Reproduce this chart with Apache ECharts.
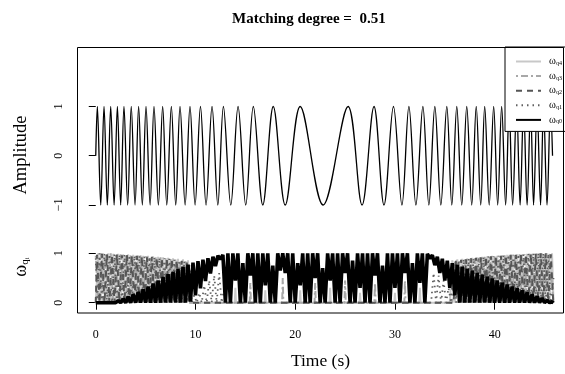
<!DOCTYPE html>
<html><head><meta charset="utf-8">
<script src="https://cdn.jsdelivr.net/npm/echarts@6/dist/echarts.min.js"></script>
<style>html,body{margin:0;padding:0;background:#fff}#c{width:565px;height:374px}</style>
</head><body><div id="c"></div>
<script>
const titleText = 'Matching degree =  0.51';
const xTicks = [0, 10, 20, 30, 40];
const ampTicks = [-1, 0, 1];
const omegaTicks = [0, 1];
const seriesNames = ['q4', 'q3', 'q2', 'q1', 'q0'];

// extremum times of the chirp signal
const signalTimes = [0, 0.16, 0.5, 0.83, 1.16, 1.5, 1.84, 2.17, 2.5, 2.83, 3.2, 3.56, 3.94, 4.3, 4.67, 5.04, 5.45, 5.84, 6.28, 6.71, 7.12,
  7.58, 8.02, 8.45, 8.96, 9.45, 9.96, 10.5, 11.06, 11.66, 12.24, 12.8, 13.54, 14.27, 15.04, 15.8, 16.75, 17.8, 19.0, 20.5, 22.8,
  25.3, 26.7, 27.9, 28.9, 29.85, 30.7, 31.4, 32.1, 32.8, 33.4, 34.0, 34.6, 35.2, 35.7, 36.2, 36.7, 37.2, 37.7, 38.15, 38.6,
  39.0, 39.45, 39.9, 40.3, 40.7, 41.1, 41.45, 41.8, 42.2, 42.55, 42.9, 43.25, 43.6, 43.9, 44.25, 44.6, 44.9, 45.25, 45.6, 45.8];
const signalValues = [0, 1, -1, 1, -1, 1, -1, 1, -1, 1, -1, 1, -1, 1, -1, 1, -1, 1, -1, 1, -1,
  1, -1, 1, -1, 1, -1, 1, -1, 1, -1, 1, -1, 1, -1, 1, -1, 1, -1, 1, -1,
  1, -1, 1, -1, 1, -1, 1, -1, 1, -1, 1, -1, 1, -1, 1, -1, 1, -1, 1, -1,
  1, -1, 1, -1, 1, -1, 1, -1, 1, -1, 1, -1, 1, -1, 1, -1, 1, -1, 1, 0];

const q4 = [[0,0],[0.25,1],[0.5,0],[0.75,1],[1,0],[1.25,1],[1.5,0],[1.75,0.99],[2,0],[2.25,0.99],[2.5,0],[2.75,0.98],[3,0],[3.25,0.98],[3.5,0],[3.75,0.97],[4,0],[4.25,0.96],[4.5,0],[4.75,0.95],[5,0],[5.25,0.95],[5.5,0],[5.75,0.94],[6,0],[6.25,0.93],[6.5,0],[6.75,0.92],[7,0],[7.25,0.91],[7.5,0],[7.75,0.9],[8,0],[8.25,0.89],[8.5,0],[8.75,0.88],[9,0],[9.25,0.86],[9.5,0],
  [13.94,0],[14,0.3],[14.06,0],[16.94,0],[17,0.25],[17.06,0],[20.44,0],[20.5,0.25],[20.56,0],[23.44,0],[23.5,0.3],[23.56,0],[26.44,0],[26.5,0.2],[26.56,0],[29.94,0],[30,0.2],[30.06,0],[32.44,0],[32.5,0.3],[32.56,0],
  [35.5,0],[35.75,0.86],[36,0],[36.25,0.88],[36.5,0],[36.75,0.89],[37,0],[37.25,0.9],[37.5,0],[37.75,0.91],[38,0],[38.25,0.92],[38.5,0],[38.75,0.93],[39,0],[39.25,0.94],[39.5,0],[39.75,0.95],[40,0],[40.25,0.95],[40.5,0],[40.75,0.96],[41,0],[41.25,0.97],[41.5,0],[41.75,0.97],[42,0],[42.25,0.98],[42.5,0],[42.75,0.98],[43,0],[43.25,0.99],[43.5,0],[43.75,0.99],[44,0],[44.25,1],[44.5,0],[44.75,1],[45,0],[45.25,1],[45.5,0],[45.75,1],[45.9,0]];

const q3 = [[0,0.95],[0.25,0],[0.5,1],[0.75,0],[1,0.98],[1.25,0],[1.5,1],[1.75,0],[2,0.97],[2.25,0],[2.5,0.98],[2.75,0],[3,0.96],[3.25,0],[3.5,0.97],[3.75,0],[4,0.95],[4.25,0],[4.5,0.96],[4.75,0],[5,0.94],[5.25,0],[5.5,0.93],[5.75,0],[6,0.92],[6.25,0],[6.5,0.92],[6.75,0],[7,0.9],[7.25,0],[7.5,0.89],[7.75,0],[8,0.88],[8.25,0],[8.5,0.86],[8.75,0],[9,0.84],[9.25,0],
  [15.44,0],[15.5,0.4],[15.56,0],[18.69,0],[18.75,0.5],[18.81,0],[21.94,0],[22,0.4],[22.06,0],[24.94,0],[25,0.45],[25.06,0],[27.94,0],[28,0.4],[28.06,0],[30.94,0],[31,0.45],[31.06,0],
  [35.75,0],[36,0.84],[36.25,0],[36.5,0.86],[36.75,0],[37,0.88],[37.25,0],[37.5,0.89],[37.75,0],[38,0.9],[38.25,0],[38.5,0.92],[38.75,0],[39,0.93],[39.25,0],[39.5,0.93],[39.75,0],[40,0.95],[40.25,0],[40.5,0.95],[40.75,0],[41,0.96],[41.25,0],[41.5,0.97],[41.75,0],[42,0.97],[42.25,0],[42.5,0.98],[42.75,0],[43,0.98],[43.25,0],[43.5,0.99],[43.75,0],[44,0.99],[44.25,0],[44.5,1],[44.75,0],[45,1],[45.25,0],[45.5,0.99],[45.9,0]];

const q2 = [[0,0],[0.125,0.97],[0.375,0],[0.625,0.99],[0.875,0],[1.125,0.98],[1.375,0],[1.625,0.97],[1.875,0],[2.125,0.98],[2.375,0],[2.625,0.96],[2.875,0],[3.125,0.97],[3.375,0],[3.625,0.95],[3.875,0],[4.125,0.95],[4.375,0],[4.625,0.94],[4.875,0],[5.125,0.93],[5.375,0],[5.625,0.93],[5.875,0],[6.125,0.91],[6.375,0],[6.625,0.9],[6.875,0],[7.125,0.89],[7.375,0],[7.625,0.88],[7.875,0],[8.125,0.86],[8.375,0],[8.625,0.85],[8.875,0],[9.125,0.83],[9.375,0],
  [35.875,0],[36.125,0.85],[36.375,0],[36.625,0.87],[36.875,0],[37.125,0.88],[37.375,0],[37.625,0.9],[37.875,0],[38.125,0.91],[38.375,0],[38.625,0.92],[38.875,0],[39.125,0.93],[39.375,0],[39.625,0.94],[39.875,0],[40.125,0.94],[40.375,0],[40.625,0.95],[40.875,0],[41.125,0.96],[41.375,0],[41.625,0.97],[41.875,0],[42.125,0.97],[42.375,0],[42.625,0.98],[42.875,0],[43.125,0.98],[43.375,0],[43.625,0.99],[43.875,0],[44.125,0.99],[44.375,0],[44.625,1],[44.875,0],[45.125,1],[45.375,0],[45.625,0.98],[45.875,0]];

const q1 = [[0,0.9],[0.125,0],[0.375,1],[0.625,0],[0.875,0.99],[1.125,0],[1.375,0.98],[1.625,0],[1.875,0.98],[2.125,0],[2.375,0.97],[2.625,0],[2.875,0.97],[3.125,0],[3.375,0.96],[3.625,0],[3.875,0.95],[4.125,0],[4.375,0.95],[4.625,0],[4.875,0.94],[5.125,0],[5.375,0.93],[5.625,0],[5.875,0.92],[6.125,0],[6.375,0.91],[6.625,0],[6.875,0.9],[7.125,0],[7.375,0.89],[7.625,0],[7.875,0.87],[8.125,0],[8.375,0.86],[8.625,0],[8.875,0.84],[9.125,0],[9.375,0.8],[9.625,0],[9.875,0.15],[10.125,0],[10.375,0.2],[10.625,0],[10.875,0.35],[11.125,0],[11.375,0.45],[11.625,0],[11.875,0.55],[12.125,0],[12.375,0.6],[12.625,0],[12.875,0.3],[13.125,0],
  [33.625,0],[33.875,0.6],[34.125,0],[34.375,0.55],[34.625,0],[34.875,0.45],[35.125,0],[35.375,0.3],[35.625,0],[35.875,0.8],[36.125,0],[36.375,0.86],[36.625,0],[36.875,0.88],[37.125,0],[37.375,0.89],[37.625,0],[37.875,0.9],[38.125,0],[38.375,0.92],[38.625,0],[38.875,0.93],[39.125,0],[39.375,0.94],[39.625,0],[39.875,0.94],[40.125,0],[40.375,0.95],[40.625,0],[40.875,0.96],[41.125,0],[41.375,0.97],[41.625,0],[41.875,0.97],[42.125,0],[42.375,0.98],[42.625,0],[42.875,0.98],[43.125,0],[43.375,0.99],[43.625,0],[43.875,1],[44.125,0],[44.375,1],[44.625,0],[44.875,1],[45.125,0],[45.375,0.99],[45.625,0],[45.9,0.5]];

const q0 = [[0,0],[2,0],[2.25,0.04],[2.5,0],[2.75,0.08],[3,0],[3.25,0.12],[3.5,0],[3.75,0.17],[4,0],[4.25,0.22],[4.5,0],[4.75,0.27],[5,0],[5.25,0.33],[5.5,0],[5.75,0.39],[6,0],[6.25,0.45],[6.5,0],[6.75,0.52],[7,0],[7.25,0.58],[7.5,0],[7.75,0.63],[8,0],[8.25,0.68],[8.5,0],[8.75,0.73],[9,0],[9.25,0.77],[9.5,0.02],
  [9.75,0.81],[10,0.15],[10.25,0.84],[10.5,0.29],[10.75,0.87],[11,0.44],[11.25,0.9],[11.5,0.59],[11.75,0.93],[12,0.74],[12.25,0.95],[12.5,0.88],[12.75,0.97],[13,0],
  [13.25,1],[13.5,0],[13.75,1],[14,0.45],[14.25,1],[14.5,0],[14.75,0.8],[15,0],[15.25,1],[15.5,0.55],[15.75,1],[16,0],[16.25,1],[16.5,0],[16.75,1],[17,0.35],
  [17.25,1],[17.5,0],[17.75,0.75],[18,0],[18.25,1],[18.5,0.65],[18.75,1],[19,0.6],[19.25,1],[19.5,0],[19.75,1],[20,0],[20.25,0.8],[20.5,0.35],[20.75,1],[21,0],
  [21.25,1],[21.5,0],[21.75,1],[22,0.5],[22.25,1],[22.5,0],[22.75,0.7],[23,0],[23.25,1],[23.5,0.45],[23.75,1],[24,0],[24.25,1],[24.5,0],[24.75,1],[25,0.6],
  [25.25,1],[25.5,0],[25.75,0.85],[26,0],[26.25,1],[26.5,0.3],[26.75,1],[27,0],[27.25,1],[27.5,0],[27.75,1],[28,0.55],[28.25,1],[28.5,0],[28.75,0.75],[29,0],
  [29.25,1],[29.5,0],[29.75,1],[30,0.3],[30.25,1],[30.5,0],[30.75,1],[31,0.6],[31.25,1],[31.5,0],[31.75,0.8],[32,0],[32.25,1],[32.5,0.4],[32.75,1],[33,0],
  [33.25,0.99],[33.5,0.9],[33.75,0.96],[34,0.76],[34.25,0.93],[34.5,0.6],[34.75,0.89],[35,0.45],[35.25,0.85],[35.5,0.3],[35.75,0.8],[36,0.15],[36.25,0.77],[36.5,0],
  [36.75,0.73],[37,0],[37.25,0.69],[37.5,0],[37.75,0.65],[38,0],[38.25,0.61],[38.5,0],[38.75,0.57],[39,0],[39.25,0.53],[39.5,0],[39.75,0.49],[40,0],[40.25,0.45],[40.5,0],[40.75,0.41],[41,0],[41.25,0.37],[41.5,0],[41.75,0.33],[42,0],[42.25,0.29],[42.5,0],[42.75,0.25],[43,0],[43.25,0.21],[43.5,0],[43.75,0.17],[44,0],[44.25,0.13],[44.5,0],[44.75,0.09],[45,0],[45.25,0.05],[45.5,0],[45.75,0.02],[45.9,0]];

const seriesData = {q4: q4, q3: q3, q2: q2, q1: q1, q0: q0};
const seriesStyle = {
  q4: {color: '#c8c8c8', width: 2, type: 'solid'},
  q3: {color: '#a8a8a8', width: 2, type: [2, 3, 7, 3]},
  q2: {color: '#555555', width: 2, type: [6, 5]},
  q1: {color: '#606060', width: 1.8, type: [1.5, 4]},
  q0: {color: '#000000', width: 3.6, type: 'solid'}
};

const serif = '"Liberation Serif", "DejaVu Serif", serif';
const XMIN = -1.83, XMAX = 46.9;
const minusFmt = v => String(v).replace('-', '\u2212');

const chart = echarts.init(document.getElementById('c'), null, {renderer: 'canvas'});

const series = [{
  type: 'line', name: 'signal', xAxisIndex: 0, yAxisIndex: 0,
  data: signalTimes.map((t, i) => [t, signalValues[i]]),
  smooth: 0.36, symbol: 'none', silent: true,
  lineStyle: {color: '#000', width: 1.3}
}];
seriesNames.forEach(n => {
  const s = seriesStyle[n];
  series.push({
    type: 'line', name: n, xAxisIndex: 1, yAxisIndex: 1,
    data: seriesData[n], symbol: 'none', silent: true,
    itemStyle: {color: s.color},
    lineStyle: {color: s.color, width: s.width, type: s.type, join: 'bevel', cap: 'butt'}
  });
});

const tickStyle = {color: '#000', width: 1};
const labelStyle = {fontFamily: serif, fontSize: 12, color: '#000'};

chart.setOption({
  animation: false,
  backgroundColor: '#fff',
  title: {text: titleText, left: 227, top: 7,
    textStyle: {fontFamily: serif, fontSize: 15, fontWeight: 'bold', color: '#000'}},
  grid: [
    {left: 77.5, top: 47, width: 486, height: 216},
    {left: 77.5, top: 221, width: 486, height: 92}
  ],
  xAxis: [
    {gridIndex: 0, type: 'value', min: XMIN, max: XMAX, show: false},
    {gridIndex: 1, type: 'value', min: XMIN, max: XMAX,
      axisLine: {show: false}, splitLine: {show: false},
      axisTick: {show: true, customValues: xTicks, length: 7, lineStyle: tickStyle},
      axisLabel: Object.assign({customValues: xTicks, margin: 16}, labelStyle),
      name: 'Time (s)', nameLocation: 'middle', nameGap: 39,
      nameTextStyle: {fontFamily: serif, fontSize: 17.5, color: '#000'}}
  ],
  yAxis: [
    {gridIndex: 0, type: 'value', min: -2.178, max: 2.208,
      axisLine: {show: false}, splitLine: {show: false},
      axisTick: {show: true, customValues: ampTicks, length: 7, lineStyle: tickStyle},
      axisLabel: Object.assign({customValues: ampTicks, rotate: 90, margin: 13, formatter: minusFmt}, labelStyle),
      name: 'Amplitude', nameLocation: 'middle', nameGap: 47, nameRotate: 90,
      nameTextStyle: {fontFamily: serif, fontSize: 18.5, color: '#000'}},
    {gridIndex: 1, type: 'value', min: -0.2085, max: 1.654,
      axisLine: {show: false}, splitLine: {show: false},
      axisTick: {show: true, customValues: omegaTicks, length: 7, lineStyle: tickStyle},
      axisLabel: Object.assign({customValues: omegaTicks, rotate: 90, margin: 13, formatter: minusFmt}, labelStyle),
      name: '{w|ω}{s|q}{t|i}', nameLocation: 'middle', nameGap: 47, nameRotate: 90,
      nameTextStyle: {rich: {
        w: {fontFamily: serif, fontSize: 18, color: '#000', verticalAlign: 'bottom', lineHeight: 18},
        s: {fontFamily: serif, fontSize: 11, color: '#000', verticalAlign: 'bottom', lineHeight: 14},
        t: {fontFamily: serif, fontSize: 7, color: '#000', verticalAlign: 'bottom', lineHeight: 10}
      }}}
  ],
  legend: {
    orient: 'vertical', left: 505, top: 47, data: seriesNames,
    itemWidth: 25, itemHeight: 10, itemGap: 3.6,
    padding: [9, 30, 6, 10],
    borderColor: '#000', borderWidth: 1, borderRadius: 0, backgroundColor: '#fff',
    itemStyle: {opacity: 0},
    formatter: n => '{w|ω}{s|' + n + '}',
    textStyle: {rich: {
      w: {fontFamily: serif, fontSize: 10.5, color: '#000', padding: [0, 0, 0, 3], lineHeight: 10},
      s: {fontFamily: serif, fontSize: 6, color: '#000', verticalAlign: 'bottom', lineHeight: 8}
    }}
  },
  graphic: [{type: 'rect', z: 100, silent: true,
    shape: {x: 77.5, y: 47.5, width: 486, height: 265.5},
    style: {fill: null, stroke: '#000', lineWidth: 1}}],
  series: series
});
</script></body></html>
